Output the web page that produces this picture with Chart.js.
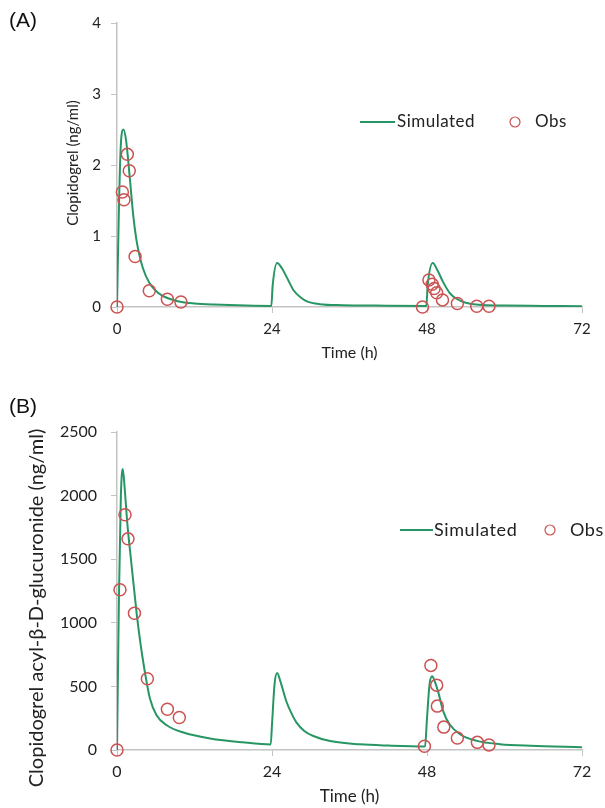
<!DOCTYPE html>
<html>
<head>
<meta charset="utf-8">
<script src="https://cdn.jsdelivr.net/npm/chart.js@4"></script>
<style>
  body { margin: 0; background: #fff; width: 605px; height: 808px; position: relative; overflow: hidden; }
  .panel { position: absolute; left: 0; width: 605px; }
  .tag { position: absolute; left: 9px; font: 21px "Liberation Sans", Arial, sans-serif; color: #111; }
</style>
</head>
<body>
<div class="panel" style="top:0;height:372px"><canvas id="chartA" width="605" height="372"></canvas></div>
<div class="panel" style="top:380px;height:428px"><canvas id="chartB" width="605" height="428"></canvas></div>
<div class="tag" style="top:8px">(A)</div>
<div class="tag" style="top:394px">(B)</div>
<script>
// panel A - clopidogrel
const simTimeA = [0, 0.3, 0.6, 1.0, 1.4, 2.0, 2.5, 3.0, 3.5, 4.0, 5.0, 6.0, 7.0, 8.0, 10, 12, 15, 20, 23.9,
  24.1, 24.8, 25.5, 26.5, 27.3, 28.5, 29.4, 31.4, 35, 40, 47.9,
  48.1, 48.9, 49.6, 50.5, 51.5, 52.5, 54, 56, 60, 66, 72];
const simValA = [0, 1.4, 2.3, 2.5, 2.35, 1.8, 1.3, 0.95, 0.72, 0.55, 0.34, 0.23, 0.16, 0.12, 0.07, 0.05, 0.035, 0.02, 0.015,
  0.3, 0.62, 0.55, 0.38, 0.24, 0.13, 0.08, 0.04, 0.025, 0.02, 0.015,
  0.3, 0.62, 0.52, 0.35, 0.2, 0.12, 0.06, 0.03, 0.02, 0.015, 0.01];
const obsTimeA = [0, 0.83, 1.08, 1.6, 1.9, 2.8, 5.0, 7.8, 9.9, 47.3, 48.3, 48.8, 49.1, 49.5, 50.4, 52.7, 55.7, 57.6];
const obsValA = [0, 1.62, 1.51, 2.15, 1.92, 0.71, 0.23, 0.11, 0.07, 0, 0.38, 0.32, 0.26, 0.2, 0.1, 0.05, 0.01, 0.01];

// panel B - acyl glucuronide
const simTimeB = [0, 0.3, 0.6, 0.9, 1.2, 1.6, 2.2, 3.05, 3.6, 4.1, 4.6, 5.1, 6.1, 7.7, 10.3, 14.4, 19.5, 23.8,
  24.0, 24.4, 24.8, 25.3, 26.2, 27.0, 27.8, 29, 30.4, 33, 37.6, 42, 47.7,
  48.0, 48.4, 48.8, 49.2, 49.7, 50.5, 51.5, 53.1, 55.7, 59.3, 64, 72];
const simValB = [0, 1200, 2000, 2210, 2050, 1780, 1480, 1070, 850, 680, 530, 405, 275, 195, 137, 91, 60, 44,
  200, 520, 605, 540, 385, 290, 215, 150, 110, 70, 45, 35, 28,
  250, 520, 580, 540, 463, 306, 202, 124, 72, 46, 33, 22];
const obsTimeB = [0, 0.46, 1.24, 1.7, 2.7, 4.7, 7.8, 9.65, 47.6, 48.6, 49.5, 49.6, 50.6, 52.7, 55.8, 57.6];
const obsValB = [0, 1260, 1850, 1660, 1075, 560, 320, 255, 30, 665, 510, 345, 180, 95, 60, 40];

const xTicks = [0, 24, 48, 72];

const lineGreen = 'rgb(40,150,100)';
const obsRed = 'rgb(204,82,82)';
const axisGrey = '#c4c4c4';
const textColor = '#222';

const toPoints = (xs, ys) => xs.map((x, i) => ({x: x, y: ys[i]}));

// "Simulated / Obs" key inside the plot, plus the rotated y title
const keyPlugin = {
    id: 'key',
    afterDraw(chart, args, opts) {
        const ctx = chart.ctx;
        ctx.save();
        ctx.font = opts.fontSize + 'px Lato';
        ctx.letterSpacing = opts.spacing + 'px';
        ctx.fillStyle = textColor;
        ctx.textBaseline = 'middle';
        ctx.strokeStyle = lineGreen;
        ctx.lineWidth = 2;
        ctx.beginPath();
        ctx.moveTo(opts.lineX0, opts.y);
        ctx.lineTo(opts.lineX1, opts.y);
        ctx.stroke();
        ctx.fillText('Simulated', opts.simX, opts.y);
        ctx.strokeStyle = obsRed;
        ctx.lineWidth = 1.2;
        ctx.beginPath();
        ctx.arc(opts.dotX, opts.y, 5, 0, Math.PI * 2);
        ctx.stroke();
        ctx.fillText('Obs', opts.obsX, opts.y);
        ctx.restore();

        const t = opts.yTitle;
        ctx.save();
        ctx.font = t.size + 'px Lato';
        ctx.fillStyle = textColor;
        ctx.textAlign = 'center';
        ctx.textBaseline = 'middle';
        ctx.translate(t.x, t.y);
        ctx.rotate(-Math.PI / 2);
        ctx.fillText(t.text, 0, 0);
        ctx.restore();
    }
};

function makeChart(canvas, cfg) {
    return new Chart(canvas, {
        type: 'scatter',
        data: {
            datasets: [
                {
                    label: 'Simulated',
                    data: toPoints(cfg.simT, cfg.simV),
                    showLine: true,
                    borderColor: lineGreen,
                    borderWidth: 2,
                    pointRadius: 0,
                    cubicInterpolationMode: 'monotone',
                    order: 2
                },
                {
                    label: 'Obs',
                    data: toPoints(cfg.obsT, cfg.obsV),
                    showLine: false,
                    clip: false,
                    pointStyle: 'circle',
                    pointRadius: 6,
                    pointBorderWidth: 1.5,
                    borderColor: obsRed,
                    backgroundColor: 'rgba(0,0,0,0)',
                    order: 1
                }
            ]
        },
        options: {
            responsive: false,
            animation: false,
            layout: {padding: {left: 0, right: 23, top: cfg.padTop, bottom: 0}},
            scales: {
                x: {
                    type: 'linear',
                    min: 0,
                    max: 72,
                    afterBuildTicks: s => { s.ticks = xTicks.map(v => ({value: v})); },
                    afterFit: s => { s.height = cfg.xHeight; },
                    border: {display: true, color: axisGrey, width: 1.5},
                    grid: {drawOnChartArea: false, tickLength: 6, color: axisGrey},
                    ticks: {color: textColor, font: {family: 'Lato', size: cfg.tickSize}, padding: cfg.xTickPad, maxRotation: 0},
                    title: {display: true, text: 'Time (h)', color: textColor,
                        font: {family: 'Lato', size: cfg.xTitleSize}, padding: {top: 0, bottom: cfg.xTitlePad}}
                },
                y: {
                    min: 0,
                    max: cfg.yMax,
                    afterFit: s => { s.width = 117; },
                    border: {display: true, color: axisGrey, width: 1.5},
                    grid: {drawOnChartArea: false, tickLength: 6, color: axisGrey},
                    ticks: {stepSize: cfg.yStep, color: textColor, font: {family: 'Lato', size: cfg.tickSize},
                        padding: cfg.yTickPad, callback: v => String(v)}
                }
            },
            plugins: {
                legend: {display: false},
                tooltip: {enabled: false},
                key: cfg.key
            }
        },
        plugins: [keyPlugin]
    });
}

makeChart(document.getElementById('chartA'), {
    simT: simTimeA, simV: simValA, obsT: obsTimeA, obsV: obsValA,
    yMax: 4, yStep: 1,
    padTop: 23, xHeight: 65, tickSize: 15, xTitleSize: 16,
    xTickPad: 7, xTitlePad: 10, yTickPad: 10,
    key: {y: 122, lineX0: 360, lineX1: 395, simX: 397, dotX: 515, obsX: 535, fontSize: 17, spacing: 0.5,
        yTitle: {text: 'Clopidogrel (ng/ml)', x: 73, y: 163, size: 15}}
});

makeChart(document.getElementById('chartB'), {
    simT: simTimeB, simV: simValB, obsT: obsTimeB, obsV: obsValB,
    yMax: 2500, yStep: 500,
    padTop: 52, xHeight: 58, tickSize: 16, xTitleSize: 17,
    xTickPad: 6, xTitlePad: 1, yTickPad: 14,
    key: {y: 150, lineX0: 400, lineX1: 433, simX: 434, dotX: 550, obsX: 570, fontSize: 18, spacing: 0.6,
        yTitle: {text: 'Clopidogrel acyl-β-D-glucuronide (ng/ml)', x: 37, y: 228, size: 20}}
});
</script>
</body>
</html>
